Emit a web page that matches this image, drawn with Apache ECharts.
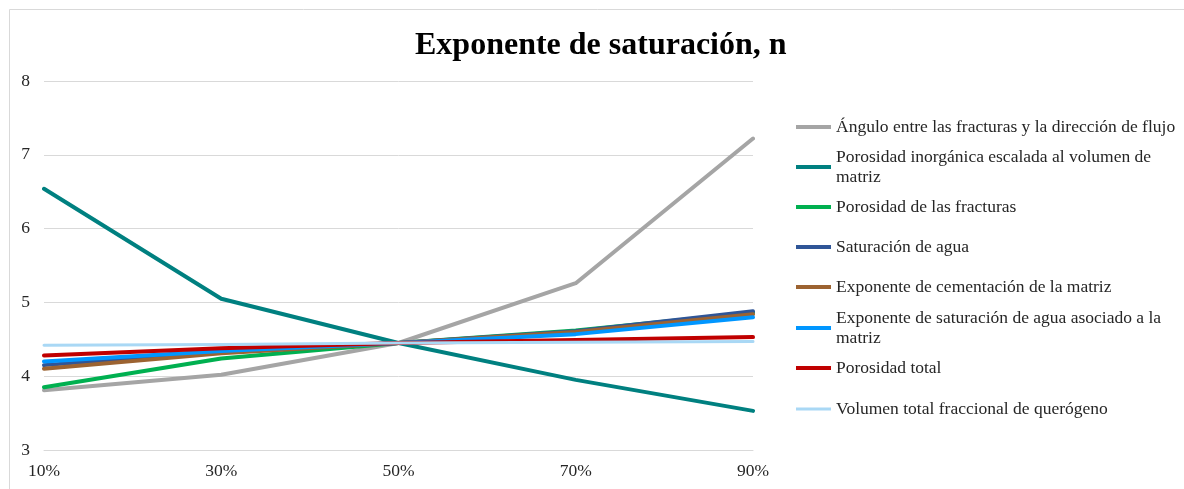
<!DOCTYPE html>
<html>
<head>
<meta charset="utf-8">
<script src="https://cdn.jsdelivr.net/npm/echarts@6/dist/echarts.min.js"></script>
<style>
  html, body { margin: 0; padding: 0; background: #fff; }
  #chart { width: 1184px; height: 489px; }
</style>
</head>
<body>
<div id="chart"></div>
<script>
const categories = ['10%', '30%', '50%', '70%', '90%'];

const seriesNames = [
  'Ángulo entre las fracturas y la dirección de flujo',
  'Porosidad inorgánica escalada al volumen de matriz',
  'Porosidad de las fracturas',
  'Saturación de agua',
  'Exponente de cementación de la matriz',
  'Exponente de saturación de agua asociado a la matriz',
  'Porosidad total',
  'Volumen total fraccional de querógeno'
];

const legendLabels = [
  'Ángulo entre las fracturas y la dirección de flujo',
  'Porosidad inorgánica escalada al volumen de\nmatriz',
  'Porosidad de las fracturas',
  'Saturación de agua',
  'Exponente de cementación de la matriz',
  'Exponente de saturación de agua asociado a la\nmatriz',
  'Porosidad total',
  'Volumen total fraccional de querógeno'
];

const anguloFracturas = [3.81, 4.02, 4.45, 5.26, 7.22];
const porosidadInorganica = [6.54, 5.05, 4.45, 3.95, 3.53];
const porosidadFracturas = [3.85, 4.24, 4.45, 4.62, 4.86];
const saturacionAgua = [4.15, 4.33, 4.45, 4.61, 4.88];
const exponenteCementacion = [4.10, 4.31, 4.45, 4.60, 4.84];
const exponenteSaturacionMatriz = [4.20, 4.34, 4.45, 4.57, 4.80];
const porosidadTotal = [4.28, 4.38, 4.45, 4.49, 4.53];
const volumenQuerogeno = [4.42, 4.43, 4.45, 4.46, 4.47];

const yTicks = { min: 3, max: 8, interval: 1 };

const seriesData = [
  anguloFracturas, porosidadInorganica, porosidadFracturas, saturacionAgua,
  exponenteCementacion, exponenteSaturacionMatriz, porosidadTotal, volumenQuerogeno
];
const colors = ['#A5A5A5', '#008080', '#00B050', '#2F5597', '#9C6331', '#0096FF', '#C00000', '#A9D8F5'];
const widths = [4, 4, 4, 4, 4, 4, 4, 3];

const FONT = '"Liberation Serif", "Times New Roman", serif';

// legend icon centres (y)
const legendCenters = [127, 167, 207, 247, 287, 328, 368, 409];

const legends = seriesNames.map((name, i) => {
  const wrapped = legendLabels[i].indexOf('\n') >= 0;
  return {
    orient: 'vertical',
    left: 796,
    top: legendCenters[i] - (wrapped ? 30 : 10),
    padding: 0,
    icon: 'rect',
    itemWidth: 35,
    itemHeight: widths[i],
    itemGap: 0,
    selectedMode: false,
    data: [name],
    formatter: () => legendLabels[i],
    textStyle: {
      fontFamily: FONT,
      fontSize: 17.5,
      color: '#262626',
      lineHeight: 20,
      padding: wrapped ? [20, 0, 0, 0] : 0
    }
  };
});

const chart = echarts.init(document.getElementById('chart'), null, { renderer: 'canvas' });
chart.setOption({
  animation: false,
  backgroundColor: '#ffffff',
  color: colors,
  title: {
    text: 'Exponente de saturación, n',
    left: 415,
    top: 30,
    padding: 0,
    textStyle: { fontFamily: FONT, fontSize: 32, fontWeight: 'bold', color: '#000' }
  },
  graphic: [{
    type: 'rect',
    shape: { x: 9.5, y: 9.5, width: 1300, height: 600 },
    style: { fill: 'none', stroke: '#d9d9d9', lineWidth: 1 },
    silent: true,
    z: -1
  }],
  legend: legends,
  grid: { left: 44, right: 431, top: 81, bottom: 39, containLabel: false },
  xAxis: {
    type: 'category',
    data: categories,
    boundaryGap: false,
    axisLine: { show: true, lineStyle: { color: '#d9d9d9', width: 1 } },
    axisTick: { show: false },
    axisLabel: { fontFamily: FONT, fontSize: 17.5, color: '#262626', margin: 12 },
    splitLine: { show: false }
  },
  yAxis: {
    type: 'value',
    min: yTicks.min,
    max: yTicks.max,
    interval: yTicks.interval,
    axisLine: { show: false },
    axisTick: { show: false },
    axisLabel: { fontFamily: FONT, fontSize: 17.5, color: '#262626', margin: 14 },
    splitLine: { show: true, lineStyle: { color: '#d9d9d9', width: 1 } }
  },
  series: seriesNames.map((name, i) => ({
    name: name,
    type: 'line',
    data: seriesData[i],
    symbol: 'none',
    showSymbol: false,
    lineStyle: { width: widths[i], color: colors[i], cap: 'round', join: 'round' },
    itemStyle: { color: colors[i] },
    emphasis: { disabled: true },
    z: 2
  }))
});
</script>
</body>
</html>
